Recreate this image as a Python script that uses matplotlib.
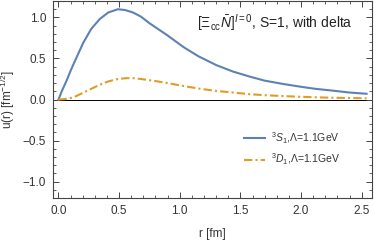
import matplotlib
matplotlib.use("Agg")
import matplotlib.pyplot as plt
from matplotlib.ticker import MultipleLocator

plt.rcParams['font.family'] = ['Liberation Sans', 'DejaVu Sans']
plt.rcParams['mathtext.fontset'] = 'custom'
plt.rcParams['mathtext.rm'] = 'Liberation Sans'
plt.rcParams['mathtext.it'] = 'Liberation Sans:italic'
plt.rcParams['mathtext.bf'] = 'Liberation Sans:bold'

# data
r_s = [0.0, 0.03, 0.067, 0.10, 0.136, 0.17, 0.204, 0.27, 0.34, 0.41, 0.49, 0.55, 0.615, 0.68, 0.75, 0.82,
       0.90, 1.03, 1.15, 1.30, 1.44, 1.575, 1.70, 1.85, 2.0, 2.12, 2.25, 2.40, 2.54]
u_s = [0.0, 0.11, 0.23, 0.35, 0.47, 0.58, 0.69, 0.86, 0.98, 1.06, 1.10, 1.09, 1.06, 1.01, 0.93, 0.86,
       0.78, 0.64, 0.53, 0.42, 0.34, 0.28, 0.23, 0.19, 0.155, 0.13, 0.11, 0.085, 0.07]
r_d = [0.0, 0.05, 0.10, 0.136, 0.20, 0.27, 0.34, 0.41, 0.49, 0.56, 0.62, 0.68, 0.75, 0.82, 0.90, 1.03,
       1.15, 1.30, 1.44, 1.575, 1.70, 1.85, 2.0, 2.12, 2.25, 2.40, 2.54]
u_d = [0.0, 0.005, 0.018, 0.035, 0.08, 0.13, 0.18, 0.22, 0.25, 0.26, 0.26, 0.25, 0.235, 0.22, 0.20, 0.165,
       0.135, 0.105, 0.085, 0.065, 0.053, 0.042, 0.033, 0.027, 0.022, 0.018, 0.015]
labels = [r"$^3S_1$,Λ=1.1GeV", r"$^3D_1$,Λ=1.1GeV"]

fig = plt.figure(figsize=(3.74, 2.45), dpi=100)
ax = fig.add_axes([0.1417, 0.1918, 0.853, 0.804])

ax.axhline(0, color='black', lw=0.7, zorder=1)
ax.plot(r_s, u_s, color='#5E81B5', lw=1.5, label=labels[0], zorder=3)
ax.plot(r_d, u_d, color='#E19C24', lw=1.5, dashes=(4, 1.5, 1, 1.5), label=labels[1], zorder=3)

ax.set_xlim(-0.045, 2.585)
ax.set_ylim(-1.2, 1.2)
ax.xaxis.set_major_locator(MultipleLocator(0.5))
ax.xaxis.set_minor_locator(MultipleLocator(0.1))
ax.yaxis.set_major_locator(MultipleLocator(0.5))
ax.yaxis.set_minor_locator(MultipleLocator(0.1))
ax.xaxis.set_major_formatter(matplotlib.ticker.FormatStrFormatter('%.1f'))
ax.yaxis.set_major_formatter(matplotlib.ticker.FuncFormatter(lambda v, p: ('%.1f' % v).replace('-', '\u2212')))

for s in ax.spines.values():
    s.set_color('#444444')
    s.set_linewidth(0.8)
ax.tick_params(which='both', direction='in', top=True, right=True, colors='#444444',
               labelcolor='#333333', labelsize=8.5)
ax.tick_params(which='major', length=4, width=0.7, pad=5)
ax.tick_params(which='minor', length=2, width=0.6)

ax.set_xlabel('r [fm]', fontsize=8.5, color='#333333', labelpad=8)
ax.set_ylabel(r'u(r) [fm$^{-1/2}$]', fontsize=8.5, color='#333333', labelpad=4)

ax.text(0.94, 0.885, r"$[\Xi_{\rm cc}\bar{N}]^{I=0}$, S=1, with delta", transform=ax.transAxes,
        ha='right', va='center', fontsize=10, color='#222222')

ax.legend(loc='center right', bbox_to_anchor=(0.93, 0.25), frameon=False, fontsize=7.5,
          handlelength=2.0, handletextpad=0.6, labelspacing=0.6, labelcolor='#333333')

fig.savefig('out.png', dpi=100)
